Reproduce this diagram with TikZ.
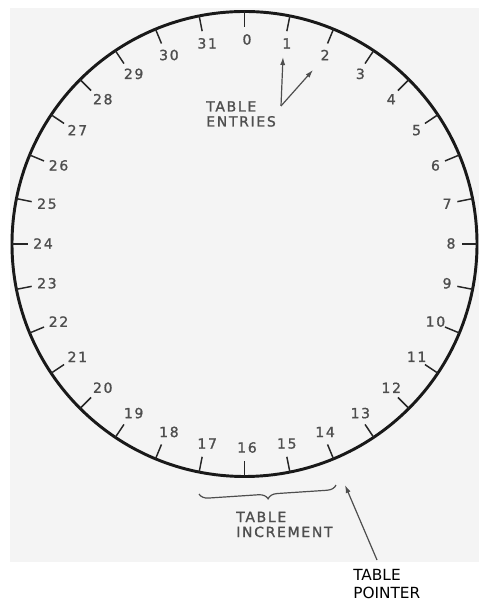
\documentclass[tikz,border=0pt]{standalone}
\usepackage{fontspec}
\setmainfont{DejaVu Sans}
\newfontfamily\lettering[LetterSpace=12,FakeBold=1.2]{DejaVu Sans}
\usetikzlibrary{arrows.meta,decorations.pathreplacing}
\definecolor{scanbg}{RGB}{244,244,244}
\definecolor{inchiostro}{RGB}{78,78,78}

\begin{document}
\begin{tikzpicture}[x=0.75pt, y=0.75pt,
  every node/.style={inner sep=0pt, text=inchiostro,
    font=\lettering\fontsize{10.5}{11.25}\selectfont},
  freccia/.style={-{Latex[length=6pt,width=3.8pt]}, line width=0.9pt, inchiostro}]
  \useasboundingbox (0,0) rectangle (479,602);

  % sfondo della scansione
  \fill[scanbg] (10,40) rectangle (479,594);

  % quadrante
  \coordinate (centro) at (244.5,358);
  \coordinate (centro-num) at (247,358.5);
  \draw[line width=2.2pt, black!90] (centro) circle[radius=232.5];

  % tacche e numeri (0 in alto, senso orario)
  \foreach \i in {0,...,31} {
    \pgfmathsetmacro\ang{90-11.25*\i}
    \draw[line width=1.1pt, black!85]
      ([shift={(\ang:232.5)}]centro) -- ([shift={(\ang:217)}]centro);
    \node (n\i) at ([shift={(\ang:204)}]centro-num) {\i};
  }

  % voci della tabella
  \node[anchor=west, align=left] (voci) at (206,488) {TABLE\\ENTRIES};
  \coordinate (voci-base) at (281,496);
  \coordinate (voce1) at (283,545);
  \coordinate (voce2) at (313,532);
  \draw[freccia] (voci-base) -- (voce1);
  \draw[freccia] (voci-base) -- (voce2);

  % incremento
  \coordinate (inc-a) at (199,108);
  \coordinate (inc-b) at (336,117);
  \draw[decorate, decoration={brace, mirror, amplitude=7pt},
    line width=0.9pt, inchiostro] (inc-a) -- (inc-b);
  \node[anchor=west, align=left] (incremento) at (236,77.5) {TABLE\\INCREMENT};

  % puntatore
  \node[anchor=west, align=left, text=black,
    font=\fontsize{11.5}{13.5}\selectfont] (puntatore) at (353,18) {TABLE\\POINTER};
  \coordinate (ptr-coda) at (377,42);
  \coordinate (ptr-punta) at (345,117);
  \draw[freccia] (ptr-coda) -- (ptr-punta);
\end{tikzpicture}
\end{document}
